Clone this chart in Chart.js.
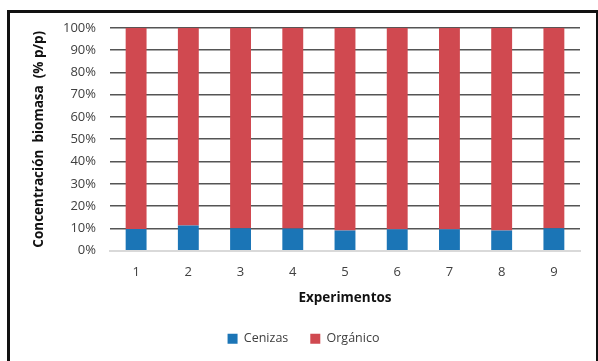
<!DOCTYPE html>
<html>
<head>
<meta charset="utf-8">
<script src="https://cdn.jsdelivr.net/npm/chart.js@4/dist/chart.umd.min.js"></script>
<style>
  html, body { margin: 0; padding: 0; background: #fff; overflow: hidden; }
  #frame {
    position: absolute; left: 7px; top: 10px;
    width: 586px; height: 360px;
    border: 3px solid #111; border-bottom: none;
    background: #fff;
  }
  #wrap { position: absolute; left: 0; top: -7px; width: 586px; height: 355px; }
</style>
</head>
<body>
<div id="frame"><div id="wrap"><canvas id="c"></canvas></div></div>
<script>
// Experiment numbers on the x axis
const experimentos = ['1', '2', '3', '4', '5', '6', '7', '8', '9'];
// Ash fraction of the biomass, % w/w
const cenizas = [9.7, 11.3, 10.1, 10.0, 9.1, 9.6, 9.6, 9.1, 10.1];
// Organic fraction, % w/w
const organico = [90.3, 88.7, 89.9, 90.0, 90.9, 90.4, 90.4, 90.9, 89.9];

const FONT = "'Open Sans', 'Noto Sans', sans-serif";
const TXT = '#404040';

new Chart(document.getElementById('c'), {
  type: 'bar',
  data: {
    labels: experimentos,
    datasets: [
      { label: 'Cenizas', data: cenizas, backgroundColor: '#1B75B6', borderWidth: 0,
        barPercentage: 0.4, categoryPercentage: 1.0 },
      { label: 'Orgánico', data: organico, backgroundColor: '#D04950', borderWidth: 0,
        barPercentage: 0.4, categoryPercentage: 1.0 }
    ]
  },
  options: {
    responsive: true,
    maintainAspectRatio: false,
    animation: false,
    layout: { padding: { left: 17, right: 16, top: 0, bottom: 6 } },
    plugins: {
      tooltip: { enabled: false },
      legend: {
        position: 'bottom',
        labels: {
          boxWidth: 10, boxHeight: 10, padding: 22,
          color: TXT, font: { family: FONT, size: 12.5 }
        }
      }
    },
    scales: {
      x: {
        stacked: true,
        grid: { display: false, drawTicks: false },
        border: { display: true, color: '#d9d9d9', width: 2 },
        ticks: { color: TXT, font: { family: FONT, size: 13 }, padding: 14 },
        title: { display: true, text: 'Experimentos', color: '#111',
                 font: { family: FONT, size: 13.5, weight: 'bold' }, padding: { top: -4, bottom: 4 } }
      },
      y: {
        stacked: true,
        min: 0, max: 100,
        ticks: { stepSize: 10, color: TXT, font: { family: FONT, size: 13 }, padding: 14,
                 callback: v => v + '%' },
        grid: {
          drawTicks: false,
          color: ctx => ctx.tick && ctx.tick.value === 0 ? 'rgba(0,0,0,0)' : '#555',
          lineWidth: 1.6
        },
        border: { display: false },
        title: { display: true, text: 'Concentración  biomasa  (% p/p)', color: '#111',
                 font: { family: FONT, size: 13.5, weight: 'bold' }, padding: { bottom: 5 } },
        afterFit: s => { s.width = 83; }
      }
    }
  }
});
</script>
</body>
</html>
